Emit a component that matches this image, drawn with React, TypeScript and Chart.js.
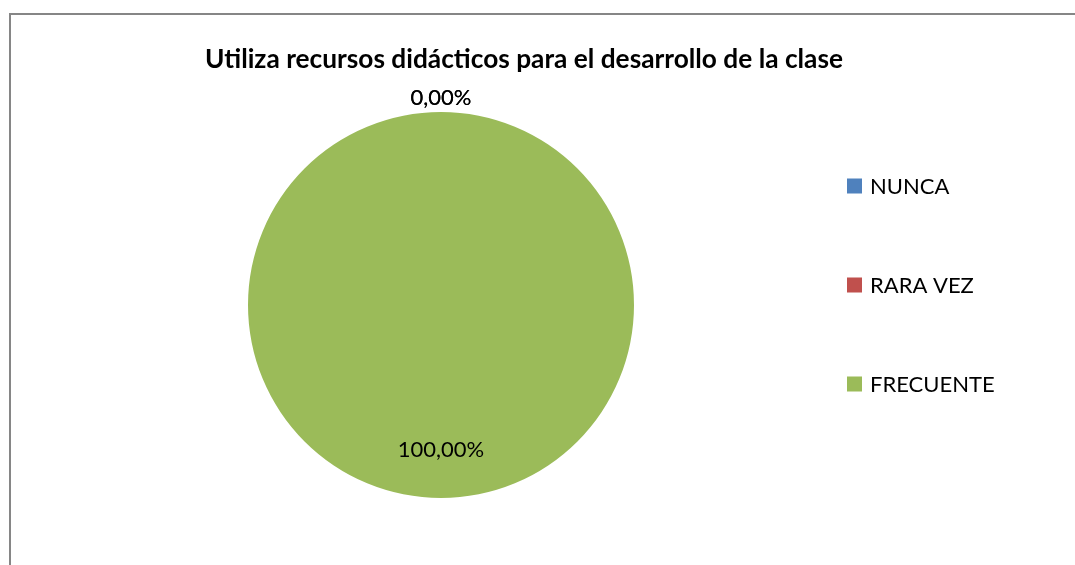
import React, { useEffect, useRef } from "react";
import { Chart, registerables } from "chart.js";

Chart.register(...registerables);

const chartTitle = "Utiliza recursos didácticos para el desarrollo de la clase";
const categories = ["NUNCA", "RARA VEZ", "FRECUENTE"];
const values = [0, 0, 100];
const colors = ["#4F81BD", "#C0504D", "#9BBB59"];

const FONT = "Lato, 'Liberation Sans', sans-serif";

const fmtPct = (v: number, total: number) =>
  ((total ? (v / total) * 100 : 0).toFixed(2)).replace(".", ",") + "%";

const titlePlugin = {
  id: "xlTitle",
  afterDraw(chart: any) {
    const ctx = chart.ctx;
    ctx.save();
    const target = 638;
    ctx.font = `bold 100px ${FONT}`;
    const w = ctx.measureText(chartTitle).width;
    const size = (100 * target) / w;
    ctx.font = `bold ${size.toFixed(2)}px ${FONT}`;
    ctx.fillStyle = "#000";
    ctx.textAlign = "center";
    ctx.textBaseline = "alphabetic";
    ctx.fillText(chartTitle, 524, 68);
    ctx.restore();
  },
};

const legendPlugin = {
  id: "xlLegend",
  afterDraw(chart: any) {
    const ctx = chart.ctx;
    const labels = chart.data.labels as string[];
    const bg = chart.data.datasets[0].backgroundColor as string[];
    ctx.save();
    ctx.font = `22px ${FONT}`;
    ctx.textBaseline = "middle";
    ctx.textAlign = "left";
    labels.forEach((lab, i) => {
      const cy = 186 + i * 99;
      ctx.fillStyle = bg[i];
      ctx.fillRect(847, cy - 7.5, 15, 15);
      ctx.fillStyle = "#000";
      ctx.fillText(lab, 870, cy + 1);
    });
    ctx.restore();
  },
};

const dataLabelPlugin = {
  id: "xlDataLabels",
  afterDatasetsDraw(chart: any) {
    const ctx = chart.ctx;
    const meta = chart.getDatasetMeta(0);
    const data = chart.data.datasets[0].data as number[];
    const total = data.reduce((a, b) => a + b, 0);
    ctx.save();
    ctx.font = `22px ${FONT}`;
    ctx.fillStyle = "#000";
    ctx.textAlign = "center";
    ctx.textBaseline = "middle";
    meta.data.forEach((arc: any, i: number) => {
      const { x, y, startAngle, endAngle, outerRadius } = arc.getProps(
        ["x", "y", "startAngle", "endAngle", "outerRadius"],
        true
      );
      const mid = (startAngle + endAngle) / 2;
      const r = data[i] === 0 ? outerRadius + 14 : outerRadius * 0.75;
      const lx = x + Math.cos(mid) * r;
      const ly = y + Math.sin(mid) * r;
      ctx.fillText(fmtPct(data[i], total), lx, ly);
    });
    ctx.restore();
  },
};

export default function App() {
  const ref = useRef<HTMLCanvasElement | null>(null);

  useEffect(() => {
    document.body.style.overflow = "hidden";
    if (!ref.current) return;
    const chart = new Chart(ref.current, {
      type: "pie",
      data: {
        labels: categories,
        datasets: [
          {
            data: values,
            backgroundColor: colors,
            borderWidth: 0,
          },
        ],
      },
      options: {
        animation: false,
        responsive: false,
        maintainAspectRatio: false,
        layout: { padding: { left: 248, right: 441, top: 112, bottom: 67 } },
        plugins: {
          legend: { display: false },
          title: { display: false },
          tooltip: { enabled: false },
        },
      },
      plugins: [titlePlugin, legendPlugin, dataLabelPlugin],
    });
    return () => chart.destroy();
  }, []);

  return (
    <div
      style={{
        position: "fixed",
        left: 0,
        top: 0,
        width: 1075,
        height: 565,
        background: "#fff",
        overflow: "hidden",
      }}
    >
      <div
        style={{
          position: "absolute",
          left: 9,
          top: 13,
          width: 1200,
          height: 700,
          border: "2px solid #868686",
          boxSizing: "border-box",
        }}
      />
      <canvas
        ref={ref}
        width={1075}
        height={565}
        style={{ position: "absolute", left: 0, top: 0, width: 1075, height: 565 }}
      />
    </div>
  );
}
